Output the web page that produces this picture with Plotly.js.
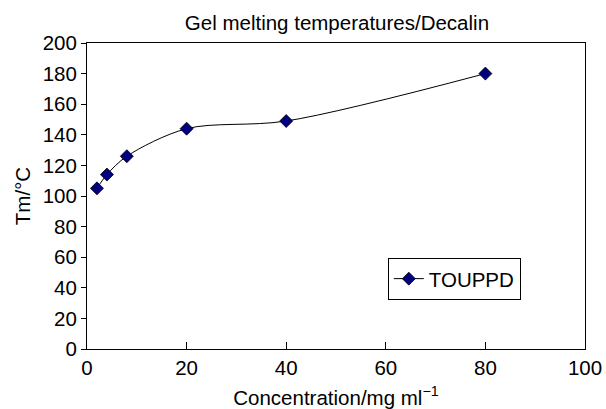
<!DOCTYPE html>
<html>
<head>
<meta charset="utf-8">
<script src="https://cdn.plot.ly/plotly-3.0.1.min.js"></script>
<style>html,body{margin:0;padding:0;background:#fff;}#chart{width:606px;height:409px;}</style>
</head>
<body>
<div id="chart"></div>
<script>
const concentration = [2, 4, 8, 20, 40, 80];
const meltingTemp = [105, 114, 126, 144, 149, 180];
const seriesName = "TOUPPD";
const xTicks = [0, 20, 40, 60, 80, 100];
const yTicks = [0, 20, 40, 60, 80, 100, 120, 140, 160, 180, 200];

const font = "Liberation Sans, Arial, sans-serif";

const trace = {
  x: concentration,
  y: meltingTemp,
  name: seriesName,
  type: "scatter",
  mode: "lines+markers",
  line: {color: "#000000", width: 1, shape: "spline", smoothing: 0.9},
  marker: {symbol: "diamond", size: 10, color: "#000080", line: {color: "#000000", width: 0.8}},
  showlegend: true
};

const layout = {
  width: 606, height: 409,
  margin: {l: 87, r: 21, t: 43, b: 60},
  paper_bgcolor: "#ffffff", plot_bgcolor: "#ffffff",
  font: {family: font, color: "#000000", size: 20},
  title: {text: "Gel melting temperatures/Decalin", font: {family: font, size: 20.5, color: "#000"}, x: 0.556, xanchor: "center", y: 0.945, yanchor: "middle"},
  xaxis: {
    range: [0, 100], tickvals: xTicks, ticktext: xTicks.map(String),
    ticks: "inside", ticklen: 7, tickcolor: "#000", tickwidth: 1,
    showline: true, linecolor: "#000", linewidth: 1, mirror: true,
    showgrid: false, zeroline: false,
    tickfont: {family: font, size: 20.5},
    title: {text: "Concentration/mg ml<sup>\u22121</sup>", font: {family: font, size: 20.5}, standoff: 14}
  },
  yaxis: {
    range: [0, 200], tickvals: yTicks, ticktext: yTicks.map(String),
    ticks: "outside", ticklen: 5, tickcolor: "#000", tickwidth: 1,
    showline: true, linecolor: "#000", linewidth: 1, mirror: true,
    showgrid: false, zeroline: false,
    tickfont: {family: font, size: 20.5},
    title: {text: "Tm/\u00B0C", font: {family: font, size: 20.5}, standoff: 6}
  },
  legend: {
    x: 0.604, y: 0.298, xanchor: "left", yanchor: "top",
    bgcolor: "#ffffff", bordercolor: "#000", borderwidth: 1,
    font: {family: font, size: 20.5},
    itemwidth: 30, tracegroupgap: 0
  },
  showlegend: true
};

Plotly.newPlot("chart", [trace], layout, {staticPlot: true, displayModeBar: false});
</script>
</body>
</html>
